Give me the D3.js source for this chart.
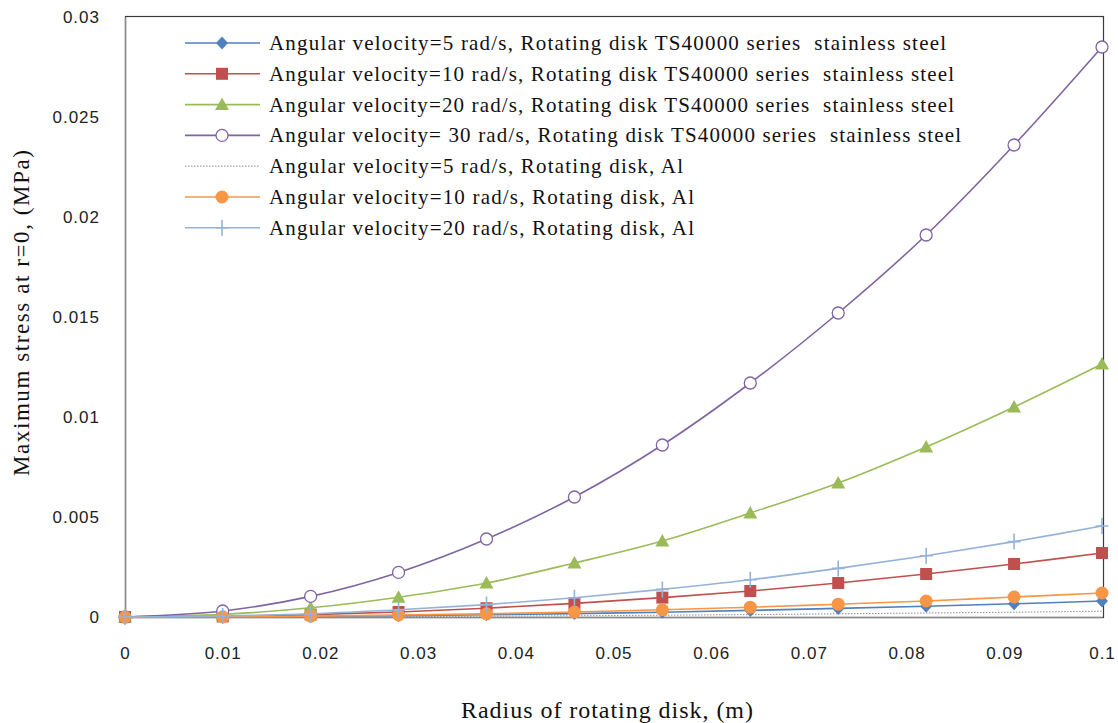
<!DOCTYPE html>
<html>
<head>
<meta charset="utf-8">
<script src="https://cdn.jsdelivr.net/npm/d3@7"></script>
<style>
  body { margin: 0; background: #fff; }
  svg { display: block; }
</style>
</head>
<body>
<div id="chart"></div>
<script>
// radius of the disk, m
var radius = [0, 0.01, 0.019, 0.028, 0.037, 0.046, 0.055, 0.064, 0.073, 0.082, 0.091, 0.1];

// maximum stress at r=0, MPa
var steel5  = [0, 0.00001, 0.00003, 0.00006, 0.00011, 0.00017, 0.00024, 0.00033, 0.00043, 0.00054, 0.00066, 0.0008];
var steel10 = [0, 0.00003, 0.00012, 0.00025, 0.00044, 0.00068, 0.00097, 0.0013, 0.0017, 0.00215, 0.00265, 0.0032];
var steel20 = [0, 0.00013, 0.00046, 0.00099, 0.0017, 0.0027, 0.0038, 0.0052, 0.0067, 0.0085, 0.0105, 0.01265];
var steel30 = [0, 0.0003, 0.00103, 0.00223, 0.0039, 0.006, 0.0086, 0.0117, 0.0152, 0.0191, 0.0236, 0.0285];
var al5     = [0, 0, 0.00001, 0.00002, 0.00004, 0.00006, 0.00009, 0.00012, 0.00016, 0.0002, 0.00024, 0.00029];
var al10    = [0, 0.00001, 0.00004, 0.0001, 0.00016, 0.00025, 0.00036, 0.00049, 0.00064, 0.0008, 0.001, 0.0012];
var al20    = [0, 0.00005, 0.00016, 0.00036, 0.00062, 0.00096, 0.00138, 0.00186, 0.00243, 0.00306, 0.00377, 0.00455];

var seriesNames = [
    "Angular velocity=5 rad/s, Rotating disk TS40000 series  stainless steel",
    "Angular velocity=10 rad/s, Rotating disk TS40000 series  stainless steel",
    "Angular velocity=20 rad/s, Rotating disk TS40000 series  stainless steel",
    "Angular velocity= 30 rad/s, Rotating disk TS40000 series  stainless steel",
    "Angular velocity=5 rad/s, Rotating disk, Al",
    "Angular velocity=10 rad/s, Rotating disk, Al",
    "Angular velocity=20 rad/s, Rotating disk, Al"
];
var seriesValues = [steel5, steel10, steel20, steel30, al5, al10, al20];

var xTicks = [0, 0.01, 0.02, 0.03, 0.04, 0.05, 0.06, 0.07, 0.08, 0.09, 0.1];
var yTicks = [0, 0.005, 0.01, 0.015, 0.02, 0.025, 0.03];

var xTitle = "Radius of rotating disk, (m)";
var yTitle = "Maximum stress at r=0, (MPa)";

//**************************************************************************
//** styles per series
//**************************************************************************
var styles = [
    {color: "#4F81BD", marker: "diamond"},
    {color: "#C0504D", marker: "square"},
    {color: "#9BBB59", marker: "triangle"},
    {color: "#8064A2", marker: "openCircle"},
    {color: "#8C8C8C", marker: "none", dash: "1.5,1.5", width: 1},
    {color: "#F79646", marker: "circle"},
    {color: "#95B3D7", marker: "cross"}
];
var legendWidths = [677, 685, 685, 692, 414, 425, 425];

var width = 1118, height = 723;
var margin = {left: 125, right: 15, top: 17, bottom: 106};

var svg = d3.select("#chart").append("svg")
    .attr("width", width)
    .attr("height", height);

var x = d3.scaleLinear().domain([0, 0.1]).range([margin.left, 1102]);
var y = d3.scaleLinear().domain([0, 0.03]).range([617, margin.top]);

// frame
svg.append("rect")
    .attr("x", margin.left + 0.5)
    .attr("y", 16.5)
    .attr("width", 1103 - margin.left)
    .attr("height", 617 - 16)
    .attr("fill", "none")
    .attr("stroke", "#3a3a3a")
    .attr("stroke-width", 1.2);

var fmt = d3.format("~g");

// x axis
var xAxis = svg.append("g")
    .attr("transform", "translate(0,617)")
    .call(d3.axisBottom(x).tickValues(xTicks).tickSize(0).tickPadding(30).tickFormat(fmt));
xAxis.select(".domain").attr("stroke", "#8a8a8a").attr("stroke-width", 1.5);
xAxis.selectAll("text")
    .attr("font-family", "Liberation Sans, Arial, sans-serif")
    .attr("font-size", 17)
    .attr("letter-spacing", "1px")
    .attr("fill", "#222");

// y axis
var yAxis = svg.append("g")
    .attr("transform", "translate(" + margin.left + ",0)")
    .call(d3.axisLeft(y).tickValues(yTicks).tickSize(0).tickPadding(25).tickFormat(fmt));
yAxis.select(".domain").attr("stroke", "#8a8a8a").attr("stroke-width", 1.5);
yAxis.selectAll("text")
    .attr("font-family", "Liberation Sans, Arial, sans-serif")
    .attr("font-size", 17)
    .attr("letter-spacing", "1px")
    .attr("fill", "#222");

// axis titles
svg.append("text")
    .attr("x", 607)
    .attr("y", 718)
    .attr("text-anchor", "middle")
    .attr("font-family", "Liberation Serif, Times New Roman, serif")
    .attr("font-size", 24)
    .attr("textLength", 292)
    .attr("lengthAdjust", "spacing")
    .attr("fill", "#111")
    .text(xTitle);

svg.append("text")
    .attr("transform", "translate(29,313) rotate(-90)")
    .attr("text-anchor", "middle")
    .attr("font-family", "Liberation Serif, Times New Roman, serif")
    .attr("font-size", 23)
    .attr("textLength", 326)
    .attr("lengthAdjust", "spacing")
    .attr("fill", "#111")
    .text(yTitle);

//**************************************************************************
//** series
//**************************************************************************
var line = d3.line()
    .x(function(d){ return x(d[0]); })
    .y(function(d){ return y(d[1]); })
    .curve(d3.curveCatmullRom.alpha(0.5));

var drawMarker = function(g, type, color, cx, cy){
    if (type === "diamond"){
        g.append("path").attr("d", "M" + cx + "," + (cy - 6.5) + "L" + (cx + 6) + "," + cy + "L" + cx + "," + (cy + 6.5) + "L" + (cx - 6) + "," + cy + "Z")
            .attr("fill", color);
    }
    else if (type === "square"){
        g.append("rect").attr("x", cx - 6).attr("y", cy - 6).attr("width", 12).attr("height", 12)
            .attr("fill", color);
    }
    else if (type === "triangle"){
        g.append("path").attr("d", "M" + cx + "," + (cy - 7) + "L" + (cx + 7) + "," + (cy + 5.5) + "L" + (cx - 7) + "," + (cy + 5.5) + "Z")
            .attr("fill", color);
    }
    else if (type === "openCircle"){
        g.append("circle").attr("cx", cx).attr("cy", cy).attr("r", 6)
            .attr("fill", "#fff").attr("stroke", color).attr("stroke-width", 1.3);
    }
    else if (type === "circle"){
        g.append("circle").attr("cx", cx).attr("cy", cy).attr("r", 6.5)
            .attr("fill", color);
    }
    else if (type === "cross"){
        g.append("path").attr("d", "M" + (cx - 6.5) + "," + cy + "H" + (cx + 6.5) + "M" + cx + "," + (cy - 8) + "V" + (cy + 8))
            .attr("stroke", color).attr("stroke-width", 1.6).attr("fill", "none");
    }
};

var plot = svg.append("g");
seriesValues.forEach(function(vals, i){
    var st = styles[i];
    var pts = radius.map(function(r, j){ return [r, vals[j]]; });
    var g = plot.append("g");
    g.append("path")
        .attr("d", line(pts))
        .attr("fill", "none")
        .attr("stroke", st.color)
        .attr("stroke-width", st.width || 1.6)
        .attr("stroke-dasharray", st.dash || null);
    pts.forEach(function(p){
        drawMarker(g, st.marker, st.color, x(p[0]), y(p[1]));
    });
});

//**************************************************************************
//** legend
//**************************************************************************
var legend = svg.append("g");
seriesNames.forEach(function(name, i){
    var st = styles[i];
    var cy = 43 + i * 30.8;
    var g = legend.append("g");
    g.append("line")
        .attr("x1", 185).attr("x2", 260)
        .attr("y1", cy).attr("y2", cy)
        .attr("stroke", st.color)
        .attr("stroke-width", st.width || 1.6)
        .attr("stroke-dasharray", st.dash || null);
    drawMarker(g, st.marker, st.color, 222, cy);
    g.append("text")
        .attr("x", 269)
        .attr("y", cy + 7)
        .attr("font-family", "Liberation Serif, Times New Roman, serif")
        .attr("font-size", 21)
        .attr("textLength", legendWidths[i])
        .attr("lengthAdjust", "spacing")
        .style("white-space", "pre")
        .attr("fill", "#111")
        .text(name);
});
</script>
</body>
</html>
